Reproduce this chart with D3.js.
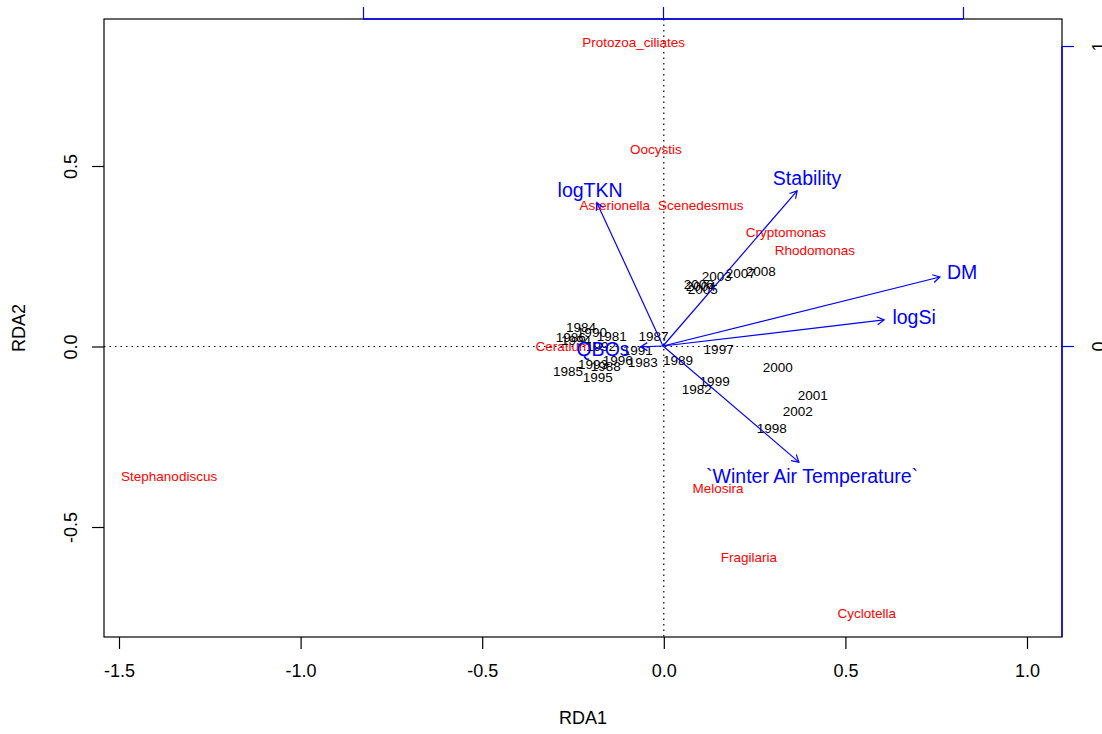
<!DOCTYPE html>
<html>
<head>
<meta charset="utf-8">
<script src="https://cdn.jsdelivr.net/npm/d3@7"></script>
<style>
  html, body { margin: 0; padding: 0; background: #fff; }
  svg { display: block; font-family: "Liberation Sans", Arial, Helvetica, sans-serif; }
</style>
</head>
<body>
<svg id="chart" width="1102" height="734"></svg>
<script>
// ---------- data ----------
const speciesNames = ["Protozoa_ciliates", "Oocystis", "Asterionella", "Scenedesmus", "Cryptomonas",
  "Rhodomonas", "Ceratium", "Stephanodiscus", "Melosira", "Fragilaria", "Cyclotella"];
const speciesX = [-0.083, -0.022, -0.135, 0.102, 0.336, 0.416, -0.278, -1.362, 0.149, 0.234, 0.559];
const speciesY = [0.843, 0.547, 0.392, 0.392, 0.318, 0.268, 0.000, -0.359, -0.392, -0.583, -0.738];

const yearLabels = ["1986", "1994", "1984", "1990", "1981", "1992", "1987", "1991", "1996", "1983",
  "1993", "1988", "1985", "1995", "1989", "1997", "2000", "1999", "1982", "2001", "2002", "1998",
  "2003", "2007", "2008", "2004", "2006", "2005"];
const yearX = [-0.256, -0.242, -0.228, -0.198, -0.143, -0.173, -0.028, -0.072, -0.127, -0.058,
  -0.195, -0.160, -0.264, -0.182, 0.039, 0.151, 0.314, 0.140, 0.091, 0.410, 0.369, 0.297,
  0.146, 0.212, 0.267, 0.102, 0.096, 0.107];
const yearY = [0.025, 0.019, 0.055, 0.041, 0.030, 0.000, 0.030, -0.011, -0.039, -0.044,
  -0.050, -0.055, -0.069, -0.086, -0.039, -0.008, -0.058, -0.097, -0.119, -0.135, -0.180, -0.227,
  0.196, 0.204, 0.210, 0.168, 0.174, 0.160];

const envNames = ["Stability", "DM", "logSi", "`Winter Air Temperature`", "logTKN", "QBOs"];
const envX = [0.447, 0.923, 0.737, 0.453, -0.220, -0.075];
const envY = [0.517, 0.230, 0.087, -0.387, 0.477, -0.003];
const envLabelX = [0.480, 0.997, 0.837, 0.497, -0.243, -0.200];
const envLabelY = [0.560, 0.247, 0.097, -0.433, 0.520, -0.010];

const xTicks = [-1.5, -1.0, -0.5, 0.0, 0.5, 1.0];
const yTicks = [-0.5, 0.0, 0.5];
const arrowTicksTop = [-1, 0, 1];
const arrowTicksRight = [0, 1];
const xTitle = "RDA1";
const yTitle = "RDA2";

// ---------- layout ----------
const box = { left: 104, right: 1062, top: 19, bottom: 637 };
const svg = d3.select("#chart");
const fmt = d => d.toFixed(1);

const x = d3.scaleLinear().domain([-1.5, 1.0]).range([119, 1027]);
const y = d3.scaleLinear().domain([-0.5, 0.5]).range([527, 166]);
// biplot arrow scale (top and right axes)
const xa = d3.scaleLinear().domain([-1, 1]).range([363, 963]);
const ya = d3.scaleLinear().domain([-1, 1]).range([646, 46]);

const plot = svg.append("g");
const clipId = "plotclip";
svg.append("defs").append("clipPath").attr("id", clipId)
  .append("rect").attr("x", box.left).attr("y", box.top)
  .attr("width", box.right - box.left).attr("height", box.bottom - box.top);

const inner = plot.append("g").attr("clip-path", `url(#${clipId})`);

// dotted zero lines
inner.append("line").attr("x1", box.left).attr("x2", box.right)
  .attr("y1", y(0)).attr("y2", y(0))
  .attr("stroke", "#000").attr("stroke-width", 1.2).attr("stroke-dasharray", "1.5,4");
inner.append("line").attr("x1", x(0)).attr("x2", x(0))
  .attr("y1", box.top).attr("y2", box.bottom)
  .attr("stroke", "#000").attr("stroke-width", 1.2).attr("stroke-dasharray", "1.5,4");

// species
inner.selectAll("text.sp").data(speciesNames).join("text")
  .attr("class", "sp")
  .attr("x", (d, i) => x(speciesX[i]))
  .attr("y", (d, i) => y(speciesY[i]))
  .attr("dy", "0.36em")
  .attr("text-anchor", "middle")
  .attr("font-size", 13.5)
  .attr("fill", "#ff0000")
  .text(d => d);

// sites (years)
inner.selectAll("text.yr").data(yearLabels).join("text")
  .attr("class", "yr")
  .attr("x", (d, i) => x(yearX[i]))
  .attr("y", (d, i) => y(yearY[i]))
  .attr("dy", "0.36em")
  .attr("text-anchor", "middle")
  .attr("font-size", 13.5)
  .attr("fill", "#000")
  .text(d => d);

// biplot arrows
const headLen = 8, headAng = Math.PI / 6;
envNames.forEach((name, i) => {
  const x0 = xa(0), y0 = ya(0);
  const x1 = xa(envX[i]), y1 = ya(envY[i]);
  const ang = Math.atan2(y1 - y0, x1 - x0);
  inner.append("line").attr("x1", x0).attr("y1", y0).attr("x2", x1).attr("y2", y1)
    .attr("stroke", "#0000ff").attr("stroke-width", 1.2);
  const p1 = [x1 - headLen * Math.cos(ang - headAng), y1 - headLen * Math.sin(ang - headAng)];
  const p2 = [x1 - headLen * Math.cos(ang + headAng), y1 - headLen * Math.sin(ang + headAng)];
  inner.append("path")
    .attr("d", `M${p1[0]},${p1[1]}L${x1},${y1}L${p2[0]},${p2[1]}`)
    .attr("fill", "none").attr("stroke", "#0000ff").attr("stroke-width", 1.2);
});
inner.selectAll("text.env").data(envNames).join("text")
  .attr("class", "env")
  .attr("x", (d, i) => xa(envLabelX[i]))
  .attr("y", (d, i) => ya(envLabelY[i]))
  .attr("dy", "0.36em")
  .attr("text-anchor", "middle")
  .attr("font-size", 19.5)
  .attr("fill", "#0000ff")
  .text(d => d);

// ---------- axes ----------
const axB = plot.append("g").attr("transform", `translate(0,${box.bottom})`)
  .call(d3.axisBottom(x).tickValues(xTicks).tickSize(12).tickPadding(16).tickFormat(fmt));
axB.select(".domain").remove();
axB.selectAll("text").attr("font-size", 18).attr("font-family", null).attr("dy", "0.71em").attr("y", 27);
axB.selectAll("line").attr("stroke-width", 1.2);

const axL = plot.append("g").attr("transform", `translate(${box.left},0)`)
  .call(d3.axisLeft(y).tickValues(yTicks).tickSize(12).tickFormat(fmt));
axL.select(".domain").remove();
axL.selectAll("text").attr("font-size", 18).attr("font-family", null)
  .attr("x", null).attr("dy", null).attr("text-anchor", "middle")
  .attr("transform", "translate(-27.5,0) rotate(-90)");
axL.selectAll("line").attr("stroke-width", 1.2);

// top (biplot) axis
const axT = plot.append("g").attr("transform", `translate(0,${box.top})`)
  .call(d3.axisTop(xa).tickValues(arrowTicksTop).tickSize(12).tickFormat(""));
axT.select(".domain").remove();
axT.selectAll("line").attr("stroke", "#0000ff").attr("stroke-width", 1.2);

// right (biplot) axis
const axR = plot.append("g").attr("transform", `translate(${box.right},0)`)
  .call(d3.axisRight(ya).tickValues(arrowTicksRight).tickSize(12).tickFormat(d => String(d)));
axR.select(".domain").remove();
axR.selectAll("line").attr("stroke", "#0000ff").attr("stroke-width", 1.2);
axR.selectAll("text").attr("font-size", 18).attr("font-family", null).attr("fill", "#000")
  .attr("x", null).attr("dy", null).attr("text-anchor", "middle")
  .attr("transform", "translate(43,0) rotate(-90)");

// box
plot.append("rect").attr("x", box.left).attr("y", box.top)
  .attr("width", box.right - box.left).attr("height", box.bottom - box.top)
  .attr("fill", "none").attr("stroke", "#000").attr("stroke-width", 1.2);
plot.append("line").attr("x1", xa(-1)).attr("x2", xa(1)).attr("y1", box.top).attr("y2", box.top)
  .attr("stroke", "#0000ff").attr("stroke-width", 1.4);
plot.append("line").attr("x1", box.right).attr("x2", box.right).attr("y1", ya(1)).attr("y2", box.bottom)
  .attr("stroke", "#0000ff").attr("stroke-width", 1.4);

// titles
svg.append("text").attr("x", (box.left + box.right) / 2).attr("y", 724)
  .attr("text-anchor", "middle").attr("font-size", 18).text(xTitle);
svg.append("text").attr("transform", `translate(24.5,${(box.top + box.bottom) / 2}) rotate(-90)`)
  .attr("text-anchor", "middle").attr("font-size", 18).text(yTitle);
</script>
</body>
</html>
